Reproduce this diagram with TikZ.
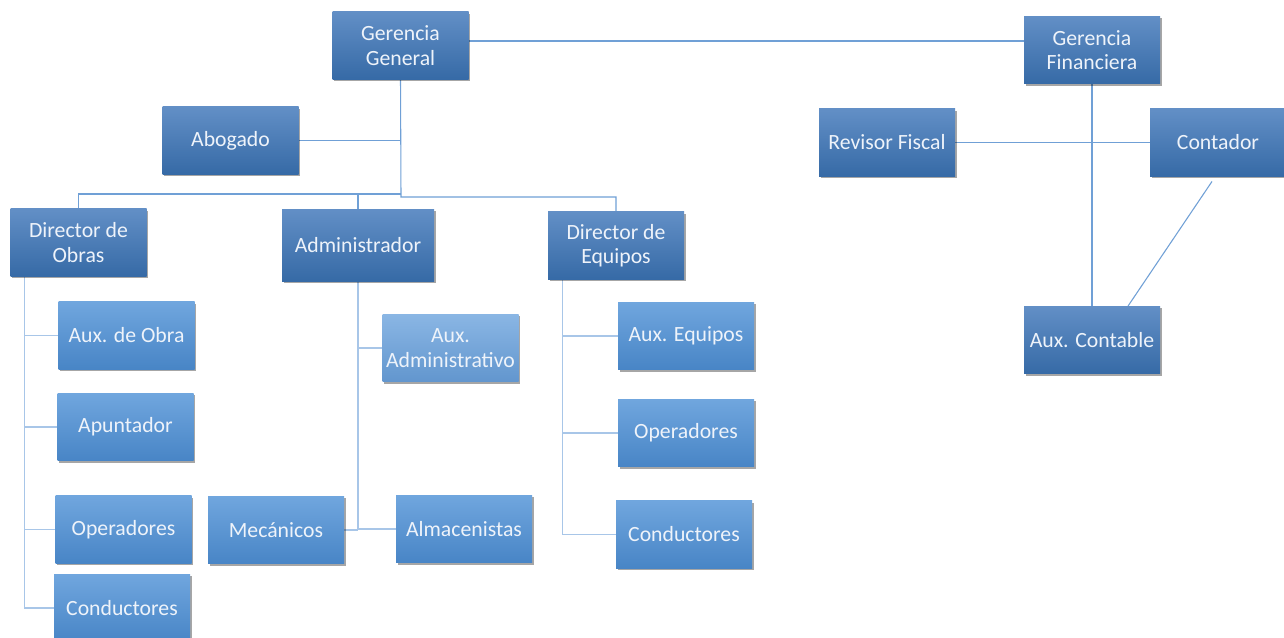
\documentclass[tikz,border=0pt]{standalone}
\usepackage{fontspec}
\setmainfont{Carlito}
\usetikzlibrary{shadows,calc,backgrounds}
\definecolor{topT}{RGB}{98,143,198}
\definecolor{topB}{RGB}{54,106,166}
\definecolor{lowT}{RGB}{112,166,222}
\definecolor{lowB}{RGB}{72,133,198}
\definecolor{paleT}{RGB}{138,182,228}
\definecolor{paleB}{RGB}{98,150,206}
\definecolor{lineA}{RGB}{112,160,214}
\definecolor{lineB}{RGB}{168,198,232}
\definecolor{txt}{RGB}{238,243,250}
\tikzset{
  box/.style={rectangle, inner sep=0pt, align=center, text=txt,
    font=\fontsize{16.3}{18.3}\selectfont,
    minimum width=102pt, minimum height=50.5pt,
    drop shadow={shadow xshift=1.2pt, shadow yshift=-1.5pt, opacity=0.35, fill=black}},
  topbox/.style={box, top color=topT, bottom color=topB},
  lowbox/.style={box, top color=lowT, bottom color=lowB},
  palebox/.style={box, top color=paleT, bottom color=paleB},
  mainline/.style={draw=lineA, line width=0.8pt},
  subline/.style={draw=lineB, line width=0.9pt}
}
\begin{document}
\begin{tikzpicture}[x=0.75pt,y=-0.75pt]
\useasboundingbox (0,0) rectangle (1284,638);
\coordinate (h1) at (0,41);
\coordinate (busL) at (401,194);
\coordinate (busR) at (401,197);
\node[topbox] (gg) at (400.5,45.5) {Gerencia\\General};
\node[topbox] (gf) at (1092,50) {Gerencia\\Financiera};
\node[topbox] (ab) at (230.5,140.5) {Abogado};
\node[topbox] (rf) at (887,142.5) {Revisor Fiscal};
\node[topbox] (co) at (1218,142.5) {Contador};
\node[topbox] (do) at (78.5,242.5) {Director de\\Obras};
\node[topbox, minimum width=114pt, minimum height=54pt] (adm) at (358,245) {Administrador};
\node[topbox] (de) at (616,245.5) {Director de\\Equipos};
\node[topbox] (ac) at (1092,340) {Aux. Contable};
\node[lowbox] (ao) at (126.5,335.5) {Aux. de Obra};
\node[palebox] (aa) at (450.5,348) {Aux.\\Administrativo};
\node[lowbox] (ae) at (686,336) {Aux. Equipos};
\node[lowbox] (ap) at (125.5,427) {Apuntador};
\node[lowbox] (opr) at (686,433) {Operadores};
\node[lowbox] (opl) at (123.5,529.5) {Operadores};
\node[lowbox] (mec) at (276,530) {Mecánicos};
\node[lowbox] (alm) at (464,529) {Almacenistas};
\node[lowbox] (cl) at (122,608) {Conductores};
\node[lowbox] (cr) at (684,534.5) {Conductores};
\coordinate (dox) at ($(do.south west)+(14,0)$);
\coordinate (dex) at ($(de.south west)+(15,0)$);
\begin{scope}[on background layer]
\fill[white] (0,0) rectangle (1284,638);
\path[mainline] (gg.east|-h1) -- (gf.west|-h1);
\path[mainline] (gg.south) -- (busR) -| (de.north);
\path[mainline] (busL) -| (do.north);
\path[mainline] (adm.north) -- (adm.north|-busL);
\path[mainline] (ab.east) -- (ab.east-|gg.south);
\path[mainline] (gf.south) -- (ac.north);
\path[mainline] (rf.east) -- (co.west);
\path[mainline] ($(co.south)+(-6,5)$) -- ($(ac.north)+(36,0)$);
\path[subline] (dox) |- (ao.west);
\path[subline] (dox) |- (ap.west);
\path[subline] (dox) |- (opl.west);
\path[subline] (dox) |- (cl.west);
\path[subline] (adm.south) |- (aa.west);
\path[subline] (adm.south) |- (alm.west);
\path[subline] (mec.east) -- (mec.east-|adm.south);
\path[subline] (dex) |- (ae.west);
\path[subline] (dex) |- (opr.west);
\path[subline] (dex) |- (cr.west);
\end{scope}
\end{tikzpicture}
\end{document}
